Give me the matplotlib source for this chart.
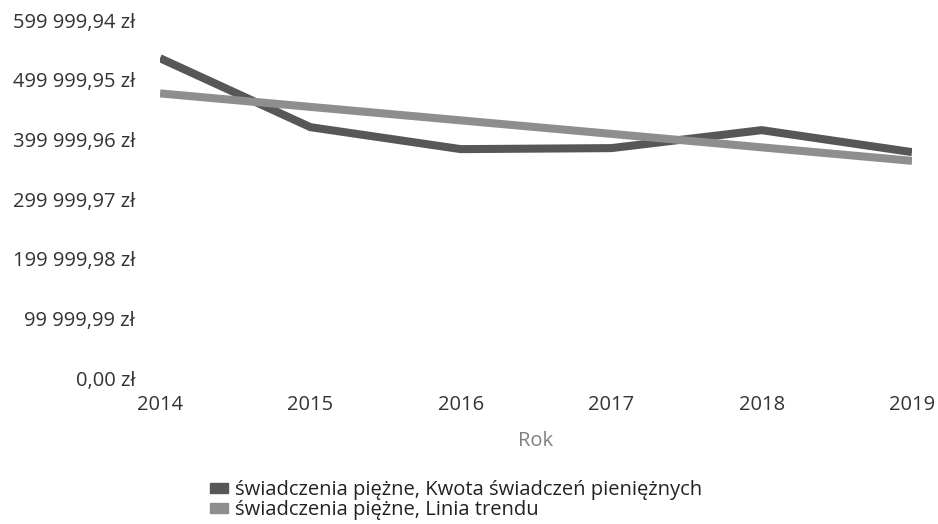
import matplotlib.pyplot as plt
from matplotlib.patches import Patch
from matplotlib.ticker import FuncFormatter

plt.rcParams['font.family'] = ['Open Sans', 'DejaVu Sans']

# Data
years = [2014, 2015, 2016, 2017, 2018, 2019]
amounts = [536000, 420400, 383600, 385300, 415400, 378600]
trend_years = [2014, 2019]
trend_values = [477000, 364000]
y_max = 599999.94
y_ticks = [0.00, 99999.99, 199999.98, 299999.97, 399999.96, 499999.95, 599999.94]

label_amount = 'świadczenia piężne, Kwota świadczeń pieniężnych'
label_trend = 'świadczenia piężne, Linia trendu'

dark = '#575757'
light = '#8e8e8e'


def pln(v, pos=None):
    s = f'{v:,.2f}'.replace(',', ' ').replace('.', ',')
    return s + ' zł'


fig = plt.figure(figsize=(9.38, 5.24), dpi=100)
ax = fig.add_axes([0.1706, 0.2786, 0.8017, 0.6832])

ax.plot(years, amounts, color=dark, linewidth=5.8,
        solid_capstyle='butt', solid_joinstyle='miter')
ax.plot(trend_years, trend_values, color=light, linewidth=5.8,
        solid_capstyle='butt')

ax.set_xlim(2014, 2019)
ax.set_ylim(0, y_max)
ax.set_xticks(years)
ax.set_yticks(y_ticks)
ax.yaxis.set_major_formatter(FuncFormatter(pln))
ax.tick_params(axis='both', length=0, labelsize=14.5, colors='#333333')
ax.tick_params(axis='x', pad=12)
ax.tick_params(axis='y', pad=18)
for s in ax.spines.values():
    s.set_visible(False)

ax.set_xlabel('Rok', fontsize=14.5, color='#808080', labelpad=12)

handles = [Patch(color=dark, label=label_amount),
           Patch(color=light, label=label_trend)]
fig.legend(handles=handles, loc='upper left', bbox_to_anchor=(0.224, 0.084),
           frameon=False, fontsize=14.5, handlelength=0.9, handleheight=0.35,
           handletextpad=0.35, labelspacing=0.0, borderaxespad=0,
           borderpad=0, labelcolor='#222222')

plt.savefig('out.png', dpi=100)
